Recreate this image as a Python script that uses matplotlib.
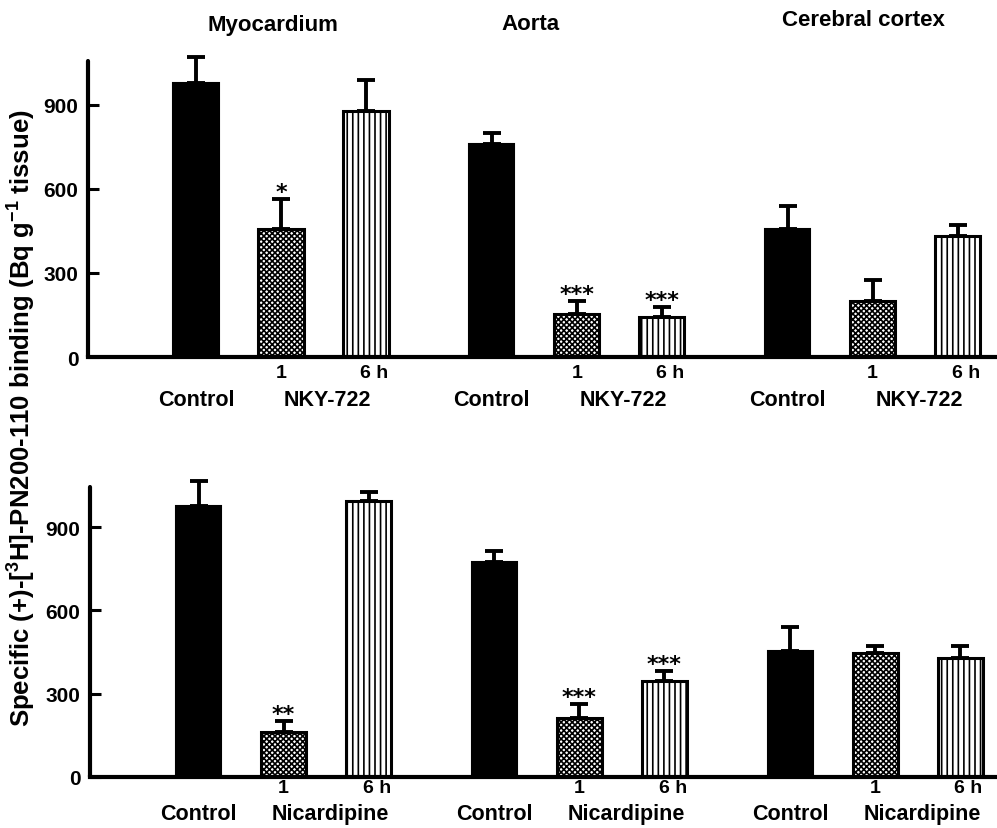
import matplotlib
matplotlib.use('Agg')
import matplotlib.pyplot as plt
import numpy as np

plt.rcParams['font.family'] = ['Liberation Sans', 'DejaVu Sans']
plt.rcParams['font.weight'] = 'bold'
plt.rcParams['mathtext.fontset'] = 'custom'
plt.rcParams['mathtext.rm'] = 'Liberation Sans:bold'
plt.rcParams['mathtext.default'] = 'rm'
plt.rcParams['hatch.linewidth'] = 1.2

tissues = ['Myocardium', 'Aorta', 'Cerebral cortex']
conditions = ['Control', '1', '6 h']

# top panel: NKY-722
nky_mean = [[979, 457, 879], [761, 154, 143], [457, 200, 432]]
nky_sem = [[92, 107, 110], [39, 46, 36], [82, 75, 39]]
nky_stars = [['', '*', ''], ['', '***', '***'], ['', '', '']]

# bottom panel: nicardipine
nic_mean = [[976, 162, 994], [774, 212, 346], [454, 446, 428]]
nic_sem = [[90, 40, 32], [40, 51, 36], [86, 26, 44]]
nic_stars = [['', '**', ''], ['', '***', '***'], ['', '', '']]

yticks = [0, 300, 600, 900]
hatches = [None, 'xxxxxx', '|||']

fig = plt.figure(figsize=(9.97, 8.29), dpi=100)


def px_axes(left, right, bottom, top):
    W, H = 997, 829
    return fig.add_axes([left / W, 1 - bottom / H, (right - left) / W, (bottom - top) / H])


def draw_panel(ax, means, sems, stars, drug, x0px, ymax, dy1, dy2):
    ax.set_ylim(0, ymax)
    ax.set_xlim((ax_left_px[drug] - x0px) / 85, (995 - x0px) / 85)
    for g in range(3):
        for i in range(3):
            x = g * 3.48 + i
            m = means[g][i]
            if i == 0:
                ax.bar(x, m, width=0.53, color='black', edgecolor='black', linewidth=1.5, zorder=2)
            else:
                ax.bar(x, m, width=0.53, color='white', edgecolor='black', linewidth=2.2,
                       hatch=hatches[i], zorder=2)
            ax.errorbar(x, m, yerr=[[0], [sems[g][i]]], fmt='none', ecolor='black',
                        elinewidth=2.8, capsize=6.5, capthick=2.8, clip_on=False, zorder=3)
            if stars[g][i]:
                ax.annotate(stars[g][i], xy=(x, m + sems[g][i]), xytext=(0, 0.5),
                            textcoords='offset points', ha='center', va='baseline',
                            fontsize=16, family='DejaVu Sans', fontweight='bold',
                            annotation_clip=False)
        # labels under each group
        xt = ax.get_xaxis_transform()
        ax.annotate('1', xy=(g * 3.48 + 1, 0), xycoords=xt, xytext=(0, -dy1 * 0.72),
                    textcoords='offset points', ha='center', va='center', fontsize=14)
        ax.annotate('6 h', xy=(g * 3.48 + 2.1, 0), xycoords=xt, xytext=(0, -dy1 * 0.72),
                    textcoords='offset points', ha='center', va='center', fontsize=14)
        ax.annotate('Control', xy=(g * 3.48, 0), xycoords=xt, xytext=(0, -dy2 * 0.72),
                    textcoords='offset points', ha='center', va='center', fontsize=15.5)
        ax.annotate(drug, xy=(g * 3.48 + 1.55, 0), xycoords=xt, xytext=(0, -dy2 * 0.72),
                    textcoords='offset points', ha='center', va='center', fontsize=15.5)

    for s in ['top', 'right']:
        ax.spines[s].set_visible(False)
    ax.spines['left'].set_linewidth(3)
    ax.spines['bottom'].set_linewidth(3)
    ax.spines['left'].set_capstyle('round')
    ax.set_yticks(yticks)
    ax.set_xticks([])
    ax.tick_params(axis='y', direction='in', length=8, width=2.2, pad=7, labelsize=15)


ax_left_px = {'NKY-722': 88, 'Nicardipine': 90}

ax1 = px_axes(88, 995, 358, 62)
draw_panel(ax1, nky_mean, nky_sem, nky_stars, 'NKY-722', 196, 1057, 15, 43)

ax2 = px_axes(90, 995, 778, 488)
draw_panel(ax2, nic_mean, nic_sem, nic_stars, 'Nicardipine', 198.5, 1044, 11, 37)

fig.text(273 / 997, 1 - 25 / 829, tissues[0], ha='center', va='center', fontsize=16)
fig.text(530 / 997, 1 - 25 / 829, tissues[1], ha='center', va='center', fontsize=16)
fig.text(863 / 997, 1 - 21 / 829, tissues[2], ha='center', va='center', fontsize=16)

fig.text(22 / 997, 1 - 418 / 829,
         r'Specific (+)-[$^{3}$H]-PN200-110 binding (Bq g$^{-1}$ tissue)',
         rotation=90, ha='center', va='center', fontsize=18.5)

fig.savefig('out.png', dpi=100)
